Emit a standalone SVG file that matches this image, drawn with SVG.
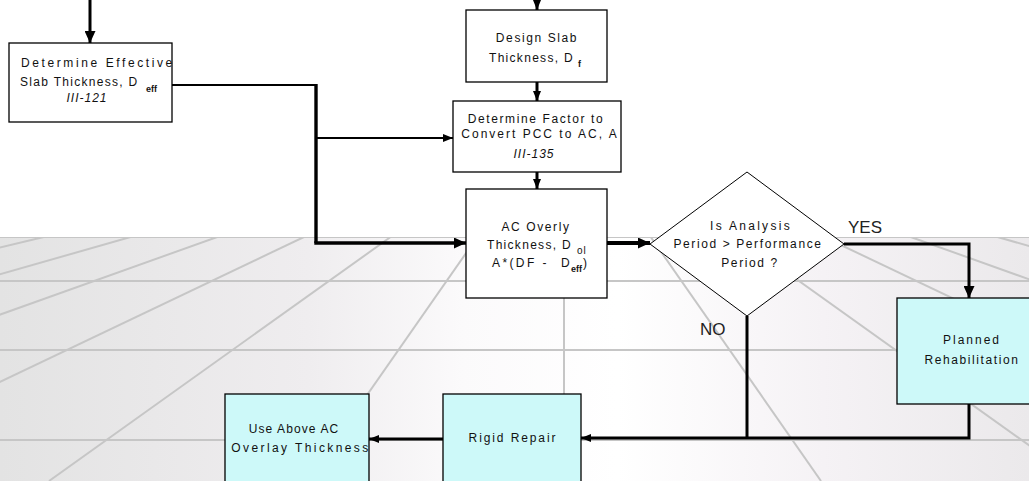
<svg xmlns="http://www.w3.org/2000/svg" width="1029" height="481" viewBox="0 0 1029 481">
  <defs>
    <linearGradient id="floor" x1="0" y1="0" x2="1" y2="0">
      <stop offset="0" stop-color="#e3e3e3"/>
      <stop offset="0.3" stop-color="#efedef"/>
      <stop offset="0.45" stop-color="#fbfafb"/>
      <stop offset="0.6" stop-color="#ffffff"/>
      <stop offset="0.8" stop-color="#f5f2f5"/>
      <stop offset="1" stop-color="#ebe9eb"/>
    </linearGradient>
    <clipPath id="floorClip">
      <rect x="0" y="237" width="1029" height="244"/>
    </clipPath>
    <marker id="headL" markerUnits="userSpaceOnUse" markerWidth="12" markerHeight="11" refX="12" refY="5.5" orient="auto">
      <path d="M0,0 L12,5.5 L0,11 z" fill="#000"/>
    </marker>
    <marker id="headS" markerUnits="userSpaceOnUse" markerWidth="10" markerHeight="8" refX="10" refY="4" orient="auto">
      <path d="M0,0 L10,4 L0,8 z" fill="#000"/>
    </marker>
  </defs>
  <style>
    .box { fill: #ffffff; stroke: #000; stroke-width: 1.3; }
    .cyan { fill: #cdf9f9; stroke: #000; stroke-width: 1.3; }
    .dia { fill: #ffffff; stroke: #000; stroke-width: 1; }
    .t { font-family: "Liberation Sans", Arial, sans-serif; font-size: 12px; letter-spacing: 1.6px; fill: #111; }
    .c { text-anchor: middle; }
    .it { font-style: italic; letter-spacing: 1px; }
    .sub { font-family: "Liberation Sans", Arial, sans-serif; font-size: 9px; font-weight: bold; fill: #111; }
    .sub2 { font-family: "Liberation Sans", Arial, sans-serif; font-size: 10px; letter-spacing: 1px; fill: #111; }
    .lbl { font-family: "Liberation Sans", Arial, sans-serif; font-size: 17px; fill: #222; }
    .grid line { stroke: #c6c6c6; stroke-width: 2; }
    .wire { fill: none; stroke: #000; stroke-linejoin: miter; }
  </style>

  <!-- page and perspective floor -->
  <rect x="0" y="0" width="1029" height="481" fill="#ffffff"/>
  <rect x="0" y="237" width="1029" height="244" fill="url(#floor)"/>
  <g class="grid" clip-path="url(#floorClip)">
    <line x1="0" y1="237" x2="1029" y2="237"/>
    <line x1="0" y1="281" x2="1029" y2="281"/>
    <line x1="0" y1="350" x2="1029" y2="350"/>
    <line x1="0" y1="440" x2="1029" y2="440"/>
    <line x1="43.8" y1="237" x2="-980" y2="481"/>
    <line x1="130.5" y1="237" x2="-723" y2="481"/>
    <line x1="217.2" y1="237" x2="-465" y2="481"/>
    <line x1="303.9" y1="237" x2="-208" y2="481"/>
    <line x1="390.6" y1="237" x2="49" y2="481"/>
    <line x1="477.3" y1="237" x2="307" y2="481"/>
    <line x1="564" y1="237" x2="564" y2="481"/>
    <line x1="650.7" y1="237" x2="821" y2="481"/>
    <line x1="737.4" y1="237" x2="1079" y2="481"/>
    <line x1="824.1" y1="237" x2="1336" y2="481"/>
    <line x1="910.8" y1="237" x2="1593" y2="481"/>
    <line x1="997.5" y1="237" x2="1851" y2="481"/>
  </g>

  <!-- connectors -->
  <g id="connectors" class="wire">
    <path d="M90,0 V43" stroke-width="3" marker-end="url(#headL)"/>
    <path d="M537,0 V10" stroke-width="3" marker-end="url(#headS)"/>
    <path d="M537,82 V101" stroke-width="3" marker-end="url(#headS)"/>
    <path d="M537,172 V189" stroke-width="3" marker-end="url(#headS)"/>
    <path d="M172,85 H316" stroke-width="2.2"/>
    <path d="M316,84 V243" stroke-width="3.4"/>
    <path d="M316,138 H453" stroke-width="2.2" marker-end="url(#headS)"/>
    <path d="M314.3,243 H466" stroke-width="3.4" marker-end="url(#headL)"/>
    <path d="M607,243 H650" stroke-width="4" marker-end="url(#headL)"/>
    <path d="M844,244 H969 V298" stroke-width="3" marker-end="url(#headL)"/>
    <path d="M747,316 V438" stroke-width="3"/>
    <path d="M969,404 V438 H581" stroke-width="3" marker-end="url(#headS)"/>
    <path d="M443,439 H369" stroke-width="3" marker-end="url(#headS)"/>
  </g>
  <text class="lbl" x="848" y="233">YES</text>
  <text class="lbl" x="700" y="335">NO</text>

  <!-- nodes -->
  <g id="effective-thickness">
    <rect class="box" x="9" y="43" width="163" height="79"/>
    <text class="t" x="21" y="67" style="letter-spacing:2.6px">Determine Effective</text>
    <text class="t" x="20" y="86" style="letter-spacing:1.3px">Slab Thickness, D</text>
    <text class="sub" x="146" y="92">eff</text>
    <text class="t c it" x="87" y="102">III-121</text>
  </g>

  <g id="design-slab">
    <rect class="box" x="466" y="10" width="141" height="72"/>
    <text class="t c" x="537" y="42">Design Slab</text>
    <text class="t" x="489" y="62" style="letter-spacing:1.3px">Thickness, D</text>
    <text class="sub" x="578" y="67">f</text>
  </g>

  <g id="pcc-to-ac-factor">
    <rect class="box" x="453" y="101" width="168" height="71"/>
    <text class="t c" x="536" y="123">Determine Factor to</text>
    <text class="t c" x="540" y="138" style="letter-spacing:2px">Convert PCC to AC, A</text>
    <text class="t c it" x="534" y="158">III-135</text>
  </g>

  <g id="ac-overlay">
    <rect class="box" x="466" y="189" width="141" height="109"/>
    <text class="t c" x="536" y="231">AC Overly</text>
    <text class="t" x="487" y="249" style="letter-spacing:1.3px">Thickness, D</text>
    <text class="sub2" x="577" y="254">ol</text>
    <text class="t" x="492" y="267" style="letter-spacing:2.4px">A*(DF -</text>
    <text class="t" x="561" y="267">D</text>
    <text class="sub" x="571" y="272">eff</text>
    <text class="t" x="583" y="267">)</text>
  </g>

  <g id="period-check">
    <polygon class="dia" points="747,172 844,244 747,316 650,244"/>
    <text class="t c" x="751" y="230" style="letter-spacing:2.3px">Is Analysis</text>
    <text class="t c" x="748" y="248">Period &gt; Performance</text>
    <text class="t c" x="750" y="267">Period ?</text>
  </g>

  <g id="planned-rehab">
    <rect class="cyan" x="897" y="298" width="150" height="106"/>
    <text class="t c" x="972" y="344" style="letter-spacing:2px">Planned</text>
    <text class="t c" x="972" y="364">Rehabilitation</text>
  </g>

  <g id="rigid-repair">
    <rect class="cyan" x="443" y="394" width="138" height="106"/>
    <text class="t c" x="513" y="442" style="letter-spacing:1.9px">Rigid Repair</text>
  </g>

  <g id="use-overlay">
    <rect class="cyan" x="225" y="394" width="144" height="106"/>
    <text class="t c" x="294" y="433" style="letter-spacing:1.1px">Use Above AC</text>
    <text class="t c" x="301" y="452" style="letter-spacing:2.4px">Overlay Thickness</text>
  </g>
</svg>
